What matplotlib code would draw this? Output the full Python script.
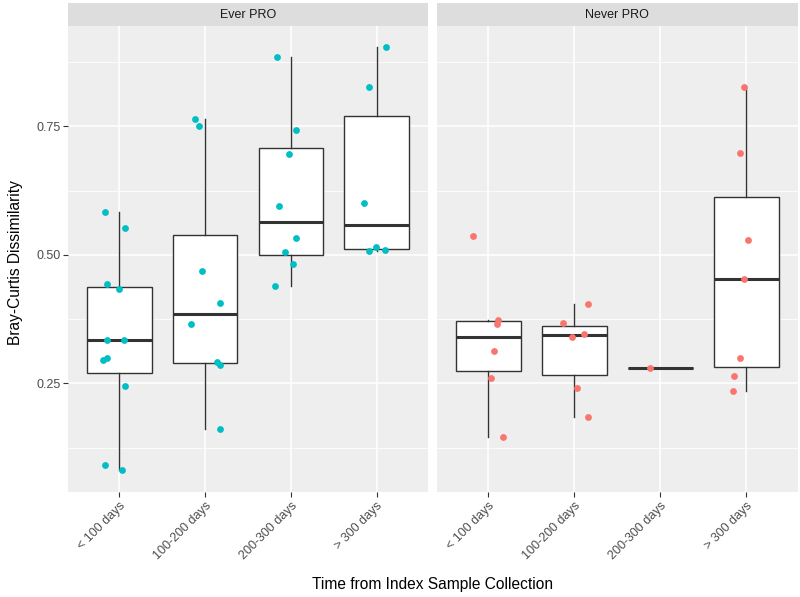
import numpy as np
import matplotlib.pyplot as plt
from matplotlib.patches import Rectangle

plt.rcParams['font.family'] = ['Liberation Sans', 'DejaVu Sans']

categories = ['< 100 days', '100-200 days', '200-300 days', '> 300 days']
panels = ['Ever PRO', 'Never PRO']
colors = {'Ever PRO': '#00BFC4', 'Never PRO': '#F8766D'}

# values, one list per category
ever_vals = [
    [0.583, 0.552, 0.443, 0.433, 0.334, 0.334, 0.295, 0.299, 0.246, 0.092, 0.081],
    [0.764, 0.750, 0.468, 0.406, 0.365, 0.291, 0.285, 0.162],
    [0.884, 0.742, 0.697, 0.596, 0.532, 0.505, 0.482, 0.439],
    [0.904, 0.826, 0.600, 0.516, 0.507, 0.509],
]
ever_jit = [
    [-0.17, 0.07, -0.14, 0.0, -0.14, 0.05, -0.19, -0.15, 0.06, -0.17, 0.03],
    [-0.12, -0.07, -0.04, 0.17, -0.16, 0.14, 0.17, 0.17],
    [-0.16, 0.06, -0.02, -0.14, 0.06, -0.07, 0.02, -0.19],
    [0.11, -0.09, -0.15, -0.01, -0.09, 0.10],
]
never_vals = [
    [0.536, 0.373, 0.365, 0.314, 0.260, 0.145],
    [0.404, 0.367, 0.347, 0.340, 0.242, 0.184],
    [0.281],
    [0.826, 0.699, 0.528, 0.454, 0.299, 0.264, 0.236],
]
never_jit = [
    [-0.18, 0.11, 0.10, 0.07, 0.03, 0.17],
    [0.16, -0.13, 0.11, -0.03, 0.03, 0.16],
    [-0.12],
    [-0.03, -0.08, 0.02, -0.03, -0.07, -0.15, -0.16],
]

fig = plt.figure(figsize=(8, 5.97), dpi=100)
ax1 = fig.add_axes([0.085, 0.1759, 0.45, 0.7805])
ax2 = fig.add_axes([0.546, 0.1759, 0.4515, 0.7805])

pos = np.arange(1, 5)
for ax, name, vals, jit in [(ax1, panels[0], ever_vals, ever_jit),
                            (ax2, panels[1], never_vals, never_jit)]:
    ax.set_facecolor('#EEEEEE')
    for s in ax.spines.values():
        s.set_visible(False)

    ax.boxplot(vals, positions=pos, widths=0.75, showfliers=False, patch_artist=True,
               manage_ticks=False,
               boxprops=dict(facecolor='white', edgecolor='#333333', lw=1.0),
               whiskerprops=dict(color='#333333', lw=1.0),
               capprops=dict(lw=0),
               medianprops=dict(color='#333333', lw=2.2, solid_capstyle='butt'),
               zorder=2)
    for i, (v, j) in enumerate(zip(vals, jit)):
        ax.scatter(pos[i] + np.array(j), v, s=24, color=colors[name], lw=0, zorder=3)

    ax.set_xlim(0.4, 4.6)
    ax.set_ylim(0.039, 0.945)
    ax.set_yticks([0.25, 0.5, 0.75])
    ax.set_yticks([0.125, 0.375, 0.625, 0.875], minor=True)
    ax.set_xticks(pos)
    ax.set_xticklabels(categories, rotation=45, ha='right', rotation_mode='anchor')
    ax.grid(True, which='major', color='white', lw=1.1)
    ax.grid(True, which='minor', axis='y', color='white', lw=0.55)
    ax.set_axisbelow(True)
    ax.tick_params(axis='both', which='major', length=3.5, width=0.8, color='#333333',
                   labelcolor='#4D4D4D', labelsize=9, pad=2)
    ax.tick_params(axis='both', which='minor', length=0)

    ax.add_patch(Rectangle((0, 1.0), 1, 23 / 466, transform=ax.transAxes,
                           facecolor='#DDDDDD', edgecolor='none', clip_on=False))
    ax.text(0.5, 1 + 11.5 / 466, name, transform=ax.transAxes, ha='center', va='center',
            fontsize=9, color='#1A1A1A')

ax1.set_yticklabels(['0.25', '0.50', '0.75'])
ax2.tick_params(axis='y', which='major', length=0, labelleft=False)

fig.text(0.019, 0.56, 'Bray-Curtis Dissimilarity', rotation=90, ha='center', va='center',
         fontsize=11.2, color='black')
fig.text(0.541, 0.021, 'Time from Index Sample Collection', ha='center', va='center',
         fontsize=11.2, color='black')

plt.savefig('out.png', dpi=100)
